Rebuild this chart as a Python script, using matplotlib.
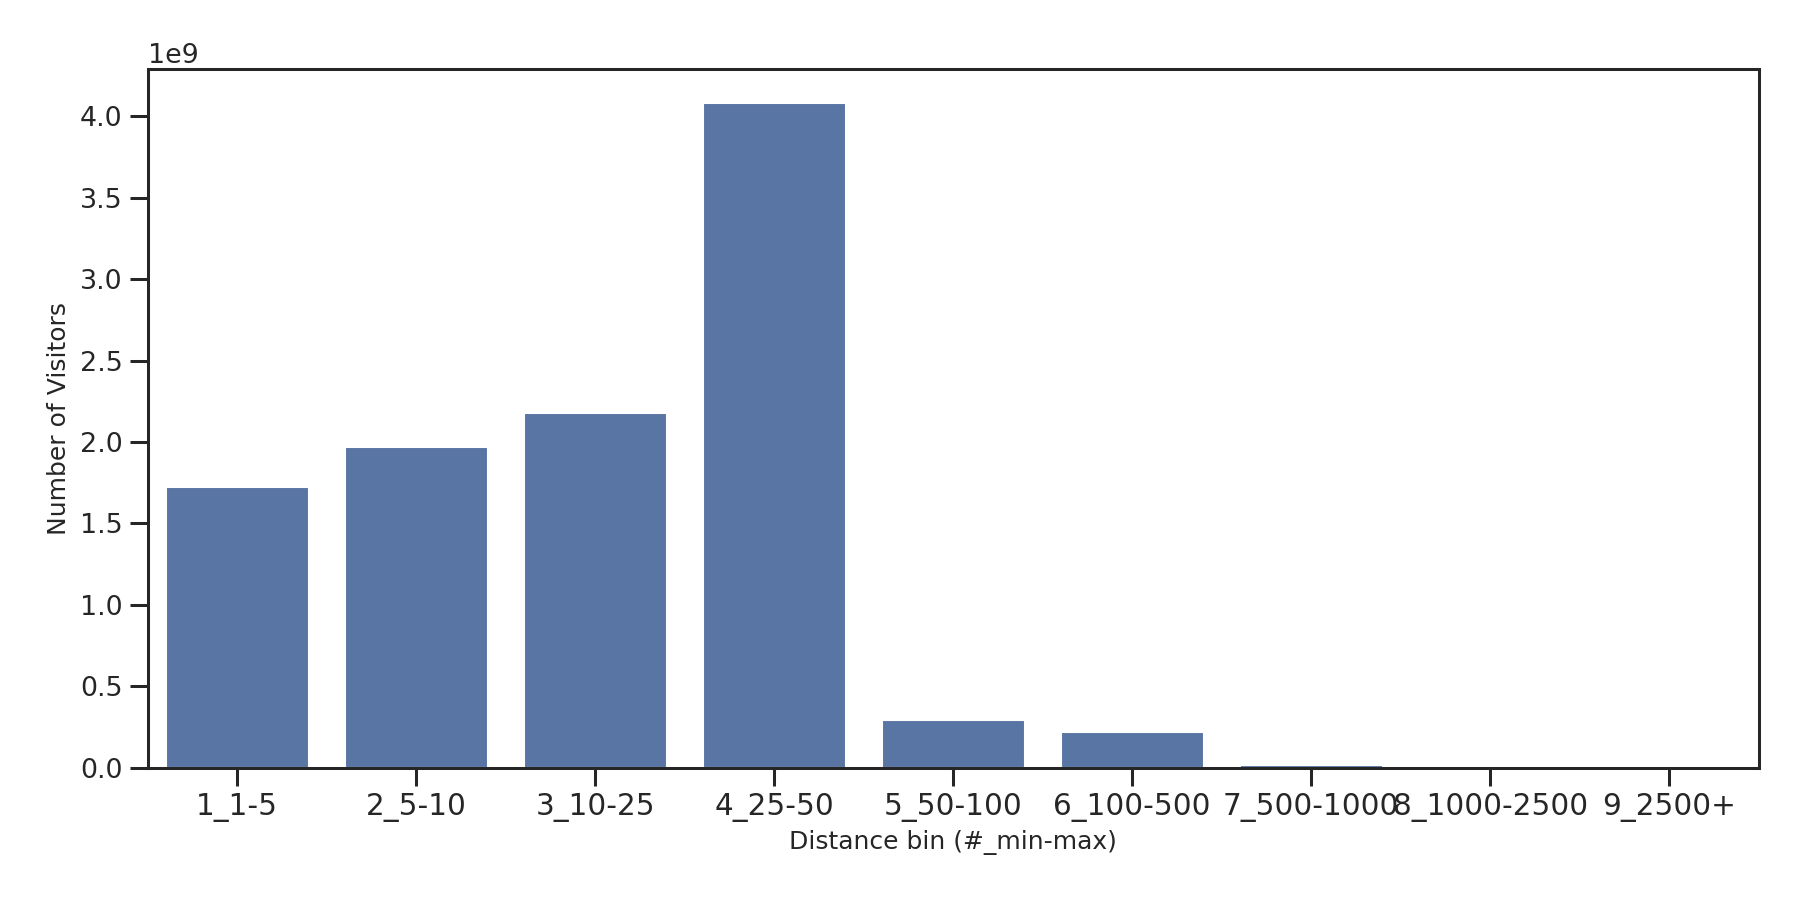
import numpy as np
import matplotlib
matplotlib.use("Agg")
import matplotlib.pyplot as plt
import seaborn as sns

# distance bins and visitor counts
bins = ["1_1-5", "2_5-10", "3_10-25", "4_25-50", "5_50-100",
        "6_100-500", "7_500-1000", "8_1000-2500", "9_2500+"]
visitors = [1.724e9, 1.972e9, 2.177e9, 4.085e9, 0.292e9,
            0.222e9, 0.016e9, 0.0015e9, 0.0005e9]

sns.set_theme(style="ticks")
plt.rcParams["axes.linewidth"] = 1.45
plt.rcParams["xtick.major.width"] = 1.45
plt.rcParams["ytick.major.width"] = 1.45
plt.rcParams["xtick.major.size"] = 8.6
plt.rcParams["ytick.major.size"] = 8.6
plt.rcParams["xtick.labelsize"] = 14.2
plt.rcParams["ytick.labelsize"] = 12.9
plt.rcParams["axes.labelsize"] = 12

fig, ax = plt.subplots(figsize=(12, 6), dpi=150)
sns.barplot(x=bins, y=visitors, ax=ax)
ax.yaxis.get_offset_text().set_fontsize(12.9)
ax.set_xlabel("Distance bin (#_min-max)")
ax.set_ylabel("Number of Visitors")

fig.subplots_adjust(left=0.082, right=0.977, top=0.923, bottom=0.147)
fig.savefig("out.png", dpi=150)
